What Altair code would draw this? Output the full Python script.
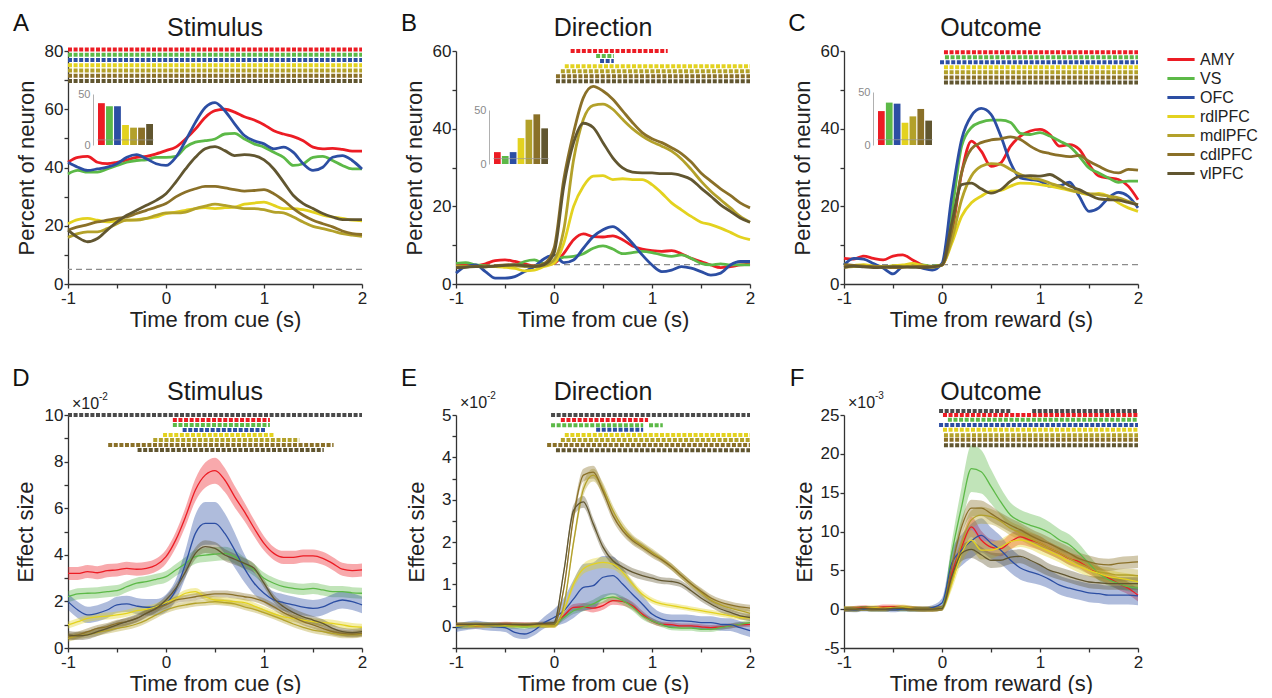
import altair as alt
import pandas as pd

REGIONS = ["AMY", "VS", "OFC", "rdlPFC", "mdlPFC", "cdlPFC", "vlPFC"]
COLORS = ["#ec1c24", "#5cb947", "#2c4ea3", "#e3d21f", "#b3a12a", "#8a7028", "#615630"]

T = [-1.0, -0.9, -0.8, -0.7, -0.6, -0.5, -0.4, -0.3, -0.2, -0.1, 0.0, 0.1, 0.2, 0.3, 0.4, 0.5,
     0.6, 0.7, 0.8, 0.9, 1.0, 1.1, 1.2, 1.3, 1.4, 1.5, 1.6, 1.7, 1.8, 1.9, 2.0]

# ---------------- Panel A: Stimulus, percent of neurons ----------------
A_AMY = [41.8, 43.5, 43.8, 41.8, 41.3, 41.8, 42.6, 43.5, 43.8, 44.7, 45.8, 47.0, 49.8, 53.2, 57.2, 59.5,
         60.0, 59.0, 57.4, 56.3, 54.7, 52.6, 51.5, 50.6, 49.2, 47.0, 46.4, 46.6, 46.2, 45.6, 45.6]
A_VS = [37.8, 39.0, 38.4, 38.4, 39.5, 40.7, 41.8, 42.4, 42.6, 43.5, 43.5, 43.8, 47.0, 48.7, 49.2, 49.8,
        51.5, 51.7, 49.8, 48.1, 47.0, 45.2, 43.5, 40.7, 41.3, 43.5, 43.8, 42.4, 40.7, 39.5, 39.5]
A_OFC = [41.8, 40.1, 39.0, 39.5, 40.1, 41.3, 43.5, 44.4, 43.0, 41.3, 40.7, 43.5, 49.2, 55.5, 60.6, 62.3,
         59.5, 55.0, 51.0, 49.2, 48.1, 46.4, 47.0, 45.2, 41.3, 39.0, 40.1, 43.5, 44.1, 42.4, 39.5]
A_RDL = [20.7, 22.1, 22.5, 21.9, 21.3, 21.7, 21.9, 22.1, 22.5, 23.0, 24.2, 24.7, 25.3, 25.9, 26.2, 25.9,
         26.2, 26.4, 27.4, 27.8, 28.1, 27.0, 25.9, 25.9, 25.5, 24.7, 23.6, 23.0, 22.5, 21.9, 21.7]
A_MDL = [16.0, 17.3, 17.9, 17.9, 19.0, 20.7, 21.9, 21.9, 22.5, 23.6, 24.4, 24.4, 24.7, 25.9, 26.7, 27.4,
         27.0, 26.4, 25.9, 25.9, 25.5, 24.7, 24.4, 23.0, 21.3, 19.8, 19.0, 18.2, 17.3, 16.8, 16.4]
A_CDL = [18.5, 19.6, 20.4, 21.3, 21.9, 22.5, 23.0, 24.2, 25.3, 26.4, 27.6, 29.9, 31.6, 32.7, 33.5, 33.5,
         33.0, 32.4, 31.9, 32.1, 32.4, 31.0, 28.7, 25.9, 23.6, 21.9, 20.7, 19.6, 18.2, 17.3, 17.0]
A_VL = [18.5, 16.0, 14.5, 15.6, 18.5, 21.3, 23.6, 25.3, 27.0, 28.7, 31.0, 35.0, 39.5, 43.5, 46.4, 47.2,
        45.8, 44.1, 44.4, 44.1, 42.6, 39.5, 35.0, 30.4, 27.6, 25.9, 24.2, 23.0, 22.1, 22.1, 22.1]
A_BARS = [41, 38, 38, 19.6, 17, 17, 20.6]
A_SIG = [("AMY", -1, 2, 80.5), ("VS", -1, 2, 78.7), ("OFC", -1, 2, 76.9), ("rdlPFC", -1, 2, 75.1),
         ("mdlPFC", -1, 2, 73.3), ("cdlPFC", -1, 2, 71.5), ("vlPFC", -1, 2, 69.7)]

# ---------------- Panel B: Direction, percent of neurons ----------------
B_AMY = [4.9, 5.2, 4.7, 5.2, 6.0, 6.2, 5.8, 5.2, 4.7, 4.9, 5.3, 7.9, 11.4, 12.9, 12.2, 12.1,
         12.4, 11.4, 9.8, 9.0, 8.6, 8.4, 8.6, 7.8, 6.6, 5.8, 4.9, 4.2, 4.5, 4.9, 5.2]
B_VS = [5.3, 5.5, 4.9, 4.7, 4.5, 4.5, 4.7, 5.8, 6.2, 5.3, 5.8, 6.9, 7.1, 7.8, 9.2, 9.8,
        9.0, 7.8, 8.1, 8.4, 8.1, 7.5, 7.1, 7.5, 6.6, 5.3, 4.9, 5.2, 4.9, 4.9, 4.9]
B_OFC = [2.8, 4.5, 4.9, 3.2, 1.5, 1.5, 1.9, 3.2, 4.5, 6.5, 7.5, 5.5, 6.2, 9.2, 12.2, 14.0,
         14.8, 13.1, 10.5, 7.5, 4.9, 3.2, 3.6, 4.5, 4.1, 3.2, 2.3, 2.8, 4.9, 5.8, 5.8]
B_RDL = [4.5, 4.5, 4.5, 4.5, 4.5, 4.3, 4.0, 3.4, 3.6, 4.5, 5.3, 10.5, 20.0, 25.2, 27.8, 27.9,
         26.9, 27.1, 26.9, 26.9, 25.6, 23.4, 20.9, 19.1, 17.4, 15.9, 15.3, 14.4, 13.3, 12.1, 11.4]
B_MDL = [4.5, 4.6, 4.5, 4.4, 4.6, 4.8, 4.7, 4.5, 4.6, 4.8, 6.2, 14.0, 32.0, 42.4, 46.0, 46.3,
         45.0, 42.4, 40.0, 38.1, 36.6, 35.5, 34.2, 32.2, 29.5, 26.5, 23.9, 21.7, 19.6, 17.4, 15.9]
B_CDL = [4.3, 4.4, 4.6, 4.5, 4.7, 4.9, 5.0, 4.8, 4.6, 5.3, 9.2, 27.0, 39.0, 48.0, 50.9, 49.7,
         47.6, 44.6, 41.6, 39.0, 37.4, 36.4, 35.1, 33.6, 31.4, 28.6, 26.5, 24.5, 22.8, 20.9, 19.6]
B_VL = [4.2, 4.3, 4.5, 4.4, 4.6, 4.8, 4.9, 4.7, 4.5, 5.0, 7.9, 25.2, 36.4, 41.4, 40.3, 36.4,
        32.5, 29.9, 28.8, 28.6, 28.6, 28.4, 28.4, 27.9, 26.9, 24.7, 22.6, 20.4, 18.7, 17.0, 15.9]
B_BARS = [11, 7.4, 11, 24, 41, 46, 33]
B_SIG = [("AMY", 0.17, 1.16, 60.0), ("VS", 0.43, 0.61, 58.7), ("OFC", 0.47, 0.61, 57.4),
         ("rdlPFC", 0.11, 2.0, 56.1), ("mdlPFC", 0.07, 2.0, 54.8), ("cdlPFC", 0.02, 2.0, 53.5),
         ("vlPFC", 0.02, 2.0, 52.2)]

# ---------------- Panel C: Outcome, percent of neurons ----------------
C_AMY = [6.6, 6.4, 7.2, 6.6, 6.2, 7.2, 7.5, 6.2, 4.9, 4.5, 4.9, 13.1, 28.6, 36.8, 34.2, 30.3,
         31.2, 35.5, 38.1, 39.4, 39.8, 38.5, 35.5, 35.9, 34.7, 30.8, 27.8, 27.3, 26.9, 25.2, 21.7]
C_VS = [5.3, 4.5, 4.5, 4.7, 4.5, 4.6, 4.8, 4.7, 4.9, 4.6, 4.9, 18.3, 35.5, 40.3, 41.7, 42.2,
        42.2, 41.6, 38.8, 38.5, 39.0, 38.1, 36.8, 35.5, 32.9, 29.9, 28.6, 27.3, 26.2, 26.5, 26.5]
C_OFC = [4.9, 6.6, 6.4, 5.3, 4.1, 2.6, 4.5, 4.9, 4.1, 3.6, 5.3, 22.6, 37.2, 43.3, 45.2, 43.7,
         38.1, 31.2, 27.3, 26.9, 26.5, 25.2, 25.3, 26.2, 22.6, 18.7, 19.6, 22.2, 23.6, 22.6, 19.6]
C_RDL = [4.5, 4.8, 5.0, 4.6, 4.4, 4.7, 4.9, 5.3, 4.8, 4.5, 4.9, 10.5, 17.4, 20.9, 22.6, 23.9,
         24.1, 25.2, 26.0, 25.9, 25.6, 25.2, 24.7, 24.1, 23.6, 23.0, 23.3, 22.6, 20.9, 19.6, 18.7]
C_MDL = [4.3, 4.5, 4.6, 4.4, 4.5, 4.3, 4.4, 4.6, 4.5, 4.3, 4.9, 11.4, 21.7, 27.8, 30.3, 31.0,
         30.8, 29.5, 28.2, 27.3, 26.9, 26.0, 25.2, 24.3, 23.6, 23.3, 23.0, 22.6, 22.2, 21.3, 20.4]
C_CDL = [5.0, 4.8, 4.6, 4.5, 4.4, 4.2, 4.3, 4.5, 4.6, 4.5, 4.9, 14.0, 28.6, 34.8, 36.4, 37.1,
         37.4, 37.9, 37.2, 35.5, 34.2, 33.6, 33.1, 32.8, 33.1, 31.6, 30.3, 29.1, 28.6, 29.5, 29.3]
C_VL = [4.3, 4.6, 4.4, 4.2, 4.3, 4.5, 4.4, 4.3, 4.2, 4.4, 4.9, 15.7, 25.6, 26.0, 24.5, 23.4,
        24.3, 26.5, 27.8, 27.9, 27.8, 28.2, 26.9, 25.3, 24.3, 23.0, 21.9, 21.7, 21.6, 21.0, 20.4]
C_BARS = [32, 40, 39, 21, 27, 34, 23]
C_SIG = [("AMY", 0.02, 2.0, 59.7), ("VS", 0.03, 2.0, 58.4), ("OFC", -0.02, 2.0, 57.1),
         ("rdlPFC", 0.02, 2.0, 55.8), ("mdlPFC", 0.02, 2.0, 54.5), ("cdlPFC", 0.02, 2.0, 53.2),
         ("vlPFC", 0.02, 2.0, 51.9)]

# ---------------- Panel D: Stimulus, effect size (x1e-2) ----------------
D_AMY = [3.20, 3.20, 3.28, 3.23, 3.32, 3.35, 3.42, 3.38, 3.42, 3.56, 3.92, 4.64, 5.64, 6.78, 7.42, 7.61,
         7.21, 6.50, 5.85, 5.14, 4.49, 4.06, 3.89, 3.89, 3.95, 3.95, 3.85, 3.63, 3.38, 3.32, 3.35]
D_VS = [2.20, 2.32, 2.35, 2.37, 2.42, 2.46, 2.63, 2.78, 2.85, 2.95, 3.06, 3.35, 3.63, 3.92, 3.99, 4.03,
        4.06, 3.92, 3.63, 3.35, 2.99, 2.78, 2.63, 2.56, 2.52, 2.56, 2.49, 2.42, 2.42, 2.37, 2.35]
D_OFC = [1.99, 1.63, 1.42, 1.49, 1.63, 1.85, 1.89, 1.80, 1.75, 1.75, 1.92, 2.49, 3.63, 4.92, 5.35, 5.35,
         4.92, 4.21, 3.42, 2.78, 2.35, 2.06, 1.95, 1.85, 1.75, 1.70, 1.77, 1.95, 2.06, 1.99, 1.85]
D_RDL = [0.99, 1.13, 1.27, 1.34, 1.37, 1.42, 1.49, 1.60, 1.66, 1.77, 1.95, 2.13, 2.35, 2.42, 2.20, 2.06,
         2.03, 1.99, 1.95, 1.80, 1.63, 1.46, 1.34, 1.27, 1.20, 1.13, 1.09, 1.06, 0.99, 0.92, 0.89]
D_MDL = [0.41, 0.52, 0.58, 0.66, 0.75, 0.84, 0.92, 1.03, 1.20, 1.42, 1.63, 1.77, 1.85, 1.92, 1.95, 1.99,
         1.95, 1.89, 1.77, 1.66, 1.52, 1.37, 1.20, 1.03, 0.89, 0.77, 0.70, 0.63, 0.56, 0.56, 0.60]
D_CDL = [0.49, 0.56, 0.70, 0.84, 0.92, 1.06, 1.13, 1.27, 1.49, 1.70, 1.85, 2.06, 2.13, 2.20, 2.27, 2.32,
         2.32, 2.27, 2.20, 2.13, 1.99, 1.77, 1.52, 1.32, 1.13, 0.99, 0.84, 0.70, 0.63, 0.60, 0.63]
D_VL = [0.56, 0.52, 0.56, 0.70, 0.84, 0.99, 1.13, 1.27, 1.49, 1.70, 2.06, 2.56, 3.28, 4.06, 4.35, 4.28,
        3.99, 3.81, 3.63, 3.42, 2.78, 2.13, 1.77, 1.52, 1.34, 1.20, 1.06, 0.84, 0.70, 0.66, 0.70]
D_AMY_W = [0.28] * 10 + [0.30, 0.34, 0.40, 0.48, 0.54, 0.56, 0.52, 0.46, 0.40, 0.35, 0.31] + [0.28] * 10
D_VS_W = [0.24] * 10 + [0.25, 0.26, 0.28, 0.30, 0.30, 0.30, 0.29, 0.28, 0.27, 0.26, 0.25] + [0.24] * 10
D_OFC_W = [0.35] * 10 + [0.38, 0.45, 0.60, 0.80, 0.92, 0.92, 0.86, 0.75, 0.60, 0.48, 0.40] + [0.36] * 10
D_RDL_W = [0.15] * 31
D_MDL_W = [0.14] * 31
D_CDL_W = [0.15] * 31
D_VL_W = [0.18] * 10 + [0.18, 0.20, 0.22, 0.25, 0.27, 0.27, 0.26, 0.24, 0.22, 0.20, 0.18] + [0.17] * 10
D_SIG_ALL = [(-1.0, 2.0, 10.0)]
D_SIG = [("AMY", 0.07, 1.06, 9.79), ("VS", 0.07, 1.06, 9.57), ("OFC", 0.17, 1.01, 9.36),
         ("rdlPFC", -0.03, 1.10, 9.14), ("mdlPFC", -0.13, 1.36, 8.93), ("cdlPFC", -0.59, 1.71, 8.71),
         ("vlPFC", -0.29, 1.61, 8.50)]

# ---------------- Panel E: Direction, effect size (x1e-2) ----------------
E_AMY = [0.03, 0.02, 0.02, 0.03, 0.04, 0.06, 0.05, 0.05, 0.04, 0.04, 0.05, 0.26, 0.46, 0.47, 0.44, 0.50,
         0.62, 0.60, 0.50, 0.30, 0.14, 0.06, 0.05, 0.02, 0.02, 0.00, -0.02, 0.00, 0.02, 0.05, 0.06]
E_VS = [0.00, 0.01, 0.03, 0.04, 0.03, 0.02, 0.01, 0.00, 0.02, 0.04, 0.06, 0.22, 0.38, 0.46, 0.54, 0.66,
        0.70, 0.62, 0.47, 0.26, 0.14, 0.05, -0.02, -0.03, -0.03, -0.06, -0.06, -0.02, 0.02, 0.06, 0.10]
E_OFC = [-0.02, 0.02, 0.05, 0.02, 0.00, -0.02, -0.13, -0.17, -0.08, 0.10, 0.22, 0.38, 0.66, 0.93, 0.97, 1.17,
         1.21, 1.01, 0.77, 0.54, 0.30, 0.18, 0.14, 0.14, 0.13, 0.10, 0.10, 0.06, 0.05, -0.02, -0.09]
E_RDL = [0.02, 0.02, 0.03, 0.02, 0.02, 0.03, 0.02, 0.02, 0.02, 0.02, 0.02, 0.38, 1.01, 1.37, 1.48, 1.52,
         1.48, 1.29, 1.01, 0.77, 0.62, 0.54, 0.50, 0.46, 0.42, 0.38, 0.34, 0.30, 0.26, 0.22, 0.21]
E_MDL = [0.05, 0.05, 0.06, 0.05, 0.04, 0.05, 0.05, 0.04, 0.05, 0.04, 0.02, 0.50, 2.00, 3.25, 3.58, 3.26,
         2.75, 2.35, 2.08, 1.92, 1.76, 1.60, 1.42, 1.21, 1.01, 0.81, 0.63, 0.52, 0.44, 0.38, 0.32]
E_CDL = [0.06, 0.06, 0.05, 0.05, 0.06, 0.05, 0.05, 0.04, 0.05, 0.06, 0.06, 0.90, 2.60, 3.58, 3.65, 3.20,
         2.63, 2.27, 2.04, 1.88, 1.72, 1.58, 1.41, 1.21, 1.01, 0.84, 0.68, 0.58, 0.52, 0.47, 0.44]
E_VL = [0.05, 0.05, 0.06, 0.05, 0.05, 0.06, 0.05, 0.05, 0.06, 0.08, 0.10, 1.30, 2.75, 2.95, 2.43, 1.88,
        1.56, 1.41, 1.29, 1.21, 1.15, 1.09, 1.07, 1.01, 0.85, 0.68, 0.54, 0.42, 0.34, 0.26, 0.22]
E_AMY_W = [0.06] * 10 + [0.06, 0.07, 0.08, 0.09, 0.10, 0.10, 0.10, 0.10, 0.09, 0.08, 0.07] + [0.06] * 10
E_VS_W = [0.06] * 10 + [0.06, 0.07, 0.08, 0.09, 0.10, 0.10, 0.10, 0.10, 0.09, 0.08, 0.07] + [0.06] * 10
E_OFC_W = [0.10, 0.10, 0.10, 0.10, 0.10, 0.10, 0.12, 0.12, 0.12, 0.14, 0.20] + \
          [0.30, 0.45, 0.55, 0.55, 0.50, 0.45, 0.38, 0.30, 0.22, 0.18] + [0.15] * 10
E_RDL_W = [0.05] * 11 + [0.08, 0.10, 0.12, 0.13, 0.13, 0.12, 0.10, 0.09, 0.08, 0.07] + [0.06] * 10
E_MDL_W = [0.05] * 11 + [0.08, 0.12, 0.15, 0.15, 0.14, 0.12, 0.11, 0.10, 0.09, 0.09] + [0.08] * 10
E_CDL_W = [0.05] * 11 + [0.08, 0.12, 0.15, 0.15, 0.14, 0.12, 0.11, 0.10, 0.09, 0.09] + [0.08] * 10
E_VL_W = [0.05] * 11 + [0.10, 0.13, 0.14, 0.13, 0.12, 0.11, 0.10, 0.10, 0.10, 0.09] + [0.08] * 10
E_SIG_ALL = [(-0.03, 2.0, 5.0)]
E_SIG = [("AMY", 0.07, 0.96, 4.88), ("VS", -0.03, 0.91, 4.76), ("VS", 0.97, 1.11, 4.76),
         ("OFC", 0.43, 0.91, 4.65), ("rdlPFC", 0.11, 2.0, 4.53), ("mdlPFC", 0.07, 2.0, 4.41),
         ("cdlPFC", -0.07, 2.0, 4.29), ("vlPFC", 0.02, 2.0, 4.17)]

# ---------------- Panel F: Outcome, effect size (x1e-3) ----------------
F_AMY = [0.0, 0.1, 0.2, 0.1, 0.3, 0.3, 0.2, 0.1, 0.0, 0.0, 0.2, 4.6, 8.0, 10.6, 8.9, 8.0,
         7.8, 8.7, 9.3, 8.9, 8.5, 7.8, 7.2, 6.5, 6.1, 5.3, 4.6, 4.0, 3.3, 2.7, 1.8]
F_VS = [0.0, 0.0, 0.1, 0.0, 0.0, 0.1, 0.0, 0.0, 0.0, 0.0, 0.2, 7.2, 13.2, 18.1, 17.7, 15.8,
        13.8, 12.1, 11.3, 10.8, 10.4, 9.8, 8.9, 8.3, 7.2, 5.9, 4.6, 3.8, 3.3, 2.9, 2.7]
F_OFC = [0.0, -0.1, 0.0, 0.0, 0.0, -0.1, 0.0, 0.0, 0.0, 0.2, 0.8, 5.9, 7.6, 8.8, 9.5, 8.5,
         7.6, 6.3, 5.3, 4.8, 4.4, 3.8, 3.1, 2.7, 2.4, 2.1, 2.0, 1.8, 1.8, 1.8, 1.7]
F_RDL = [0.1, 0.0, 0.1, 0.2, 0.1, 0.2, 0.3, 0.1, 0.0, 0.0, 0.1, 3.3, 7.2, 8.9, 7.6, 7.6,
         8.0, 8.7, 8.9, 8.6, 8.0, 7.4, 6.8, 6.1, 5.5, 5.0, 4.6, 4.2, 4.0, 3.8, 3.5]
F_MDL = [0.0, 0.1, 0.1, 0.0, 0.1, 0.1, 0.2, 0.1, 0.0, 0.0, 0.1, 3.7, 8.5, 11.5, 12.1, 11.9,
         11.3, 10.4, 9.8, 9.1, 8.5, 7.8, 7.2, 6.5, 5.9, 5.3, 4.8, 4.6, 4.4, 4.4, 4.3]
F_CDL = [0.0, 0.0, 0.1, 0.1, 0.0, 0.1, 0.1, 0.0, 0.0, 0.0, 0.1, 5.5, 10.6, 13.0, 13.0, 12.3,
         11.5, 10.8, 10.2, 9.5, 8.9, 8.4, 7.8, 7.2, 6.5, 6.1, 5.8, 5.7, 5.9, 6.0, 6.1]
F_VL = [0.0, 0.0, 0.1, 0.0, 0.0, 0.1, 0.1, 0.0, 0.0, 0.0, 0.1, 4.2, 7.2, 7.7, 7.0, 6.3,
        6.3, 6.7, 6.8, 6.3, 5.7, 5.0, 4.6, 4.2, 3.8, 3.5, 3.4, 3.3, 3.3, 3.3, 3.3]
F_AMY_W = [0.3] * 11 + [0.8, 1.1, 1.3, 1.2, 1.0, 1.0, 1.0, 1.0, 0.9, 0.9] + [0.8] * 10
F_VS_W = [0.3] * 11 + [1.5, 2.5, 3.0, 2.8, 2.2, 1.8, 1.6, 1.5, 1.5, 1.5] + \
         [1.4, 1.4, 1.3, 1.2, 1.0, 0.9, 0.8, 0.7, 0.6, 0.6]
F_OFC_W = [0.3] * 10 + [0.6] + [1.6, 2.0, 2.2, 2.2, 2.0, 1.8, 1.6, 1.5, 1.4, 1.3] + [1.2] * 10
F_RDL_W = [0.3] * 11 + [0.8, 1.2, 1.3, 1.2, 1.1, 1.0, 1.0, 0.9, 0.9, 0.9] + [0.8] * 10
F_MDL_W = [0.3] * 11 + [0.8, 1.1, 1.2, 1.1, 1.0, 1.0, 0.9, 0.9, 0.9, 0.9] + [0.8] * 10
F_CDL_W = [0.3] * 11 + [0.8, 1.0, 1.1, 1.0, 1.0, 0.9, 0.9, 0.9, 0.9, 0.9] + [0.8] * 10
F_VL_W = [0.3] * 11 + [0.8, 1.0, 1.1, 1.0, 1.0, 0.9, 0.9, 0.9, 0.9, 0.9] + [0.8] * 10
F_SIG_ALL = [(-0.03, 0.71, 25.5), (0.92, 2.0, 25.5)]
F_SIG = [("AMY", 0.01, 2.0, 25.0), ("VS", 0.06, 2.0, 24.4), ("OFC", -0.03, 2.0, 23.7),
         ("rdlPFC", 0.01, 2.0, 23.1), ("mdlPFC", 0.02, 2.0, 22.4), ("cdlPFC", 0.02, 2.0, 21.8),
         ("vlPFC", 0.02, 2.0, 21.1)]

FONT = "Liberation Sans"
W, H = 294, 233
CSCALE = alt.Scale(domain=REGIONS, range=COLORS)
LEGEND = alt.Legend(orient="none", legendX=1103, legendY=-1.5, title=None, labelFontSize=16,
                    labelColor="#222222", symbolType="M-1.6,0H1.6", symbolSize=289,
                    symbolStrokeWidth=3, rowPadding=1, labelOffset=9, padding=0)


def long_df(series, widths=None):
    rows = []
    for r in REGIONS:
        vals = series[r]
        for i, (t, v) in enumerate(zip(T, vals)):
            row = {"t": t, "v": v, "region": r}
            if widths is not None:
                row["lo"] = v - widths[r][i]
                row["hi"] = v + widths[r][i]
            rows.append(row)
    return pd.DataFrame(rows)


def axes(xtitle, ytitle, yvals, ylabel_expr, ytitle_x):
    xa = alt.Axis(values=[-1, -0.5, 0, 0.5, 1, 1.5, 2],
                  labelExpr="datum.value % 1 == 0 ? toString(datum.value) : ''",
                  title=xtitle, titleY=35, titleBaseline="middle", labelPadding=2,
                  labelFlush=False, labelOverlap=False)
    ya = alt.Axis(values=yvals, labelExpr=ylabel_expr, title=ytitle, titleX=ytitle_x,
                  titleY=H / 2, titleAngle=270, titleBaseline="middle", titleAlign="center",
                  labelPadding=1, labelFlush=False, labelOverlap=False)
    return xa, ya


def label_layers(letter, title, exp_base=None, exp_pow=None, exp_y=-11):
    one = pd.DataFrame({"s": [letter], "ttl": [title]})
    layers = [
        alt.Chart(one).mark_text(fontSize=24, font=FONT, color="#111111", align="center",
                                 baseline="middle").encode(
            text="s:N", x=alt.value(-47), y=alt.value(-27 if exp_base is None else -36)),
        alt.Chart(one).mark_text(fontSize=25, font=FONT, color="#1a1a1a", align="center",
                                 baseline="middle").encode(
            text="ttl:N", x=alt.value(W / 2), y=alt.value(-23)),
    ]
    if exp_base is not None:
        ex = pd.DataFrame({"b": [exp_base], "p": [exp_pow]})
        layers.append(alt.Chart(ex).mark_text(fontSize=16, font=FONT, color="#222222", align="left",
                                              baseline="middle").encode(
            text="b:N", x=alt.value(4), y=alt.value(exp_y)))
        layers.append(alt.Chart(ex).mark_text(fontSize=10, font=FONT, color="#222222", align="left",
                                              baseline="middle").encode(
            text="p:N", x=alt.value(31), y=alt.value(exp_y - 7)))
    return layers


def sig_df(sig):
    return pd.DataFrame({"region": [s[0] for s in sig], "s": [s[1] for s in sig],
                         "e": [s[2] for s in sig], "y": [s[3] for s in sig]})


def top_panel(series, ymax, yvals, bars, inset, sig, xtitle, letter, title):
    xs = alt.Scale(domain=[-1, 2], nice=False, zero=False)
    ys = alt.Scale(domain=[0, ymax], nice=False, zero=False)
    xa, ya = axes(xtitle, "Percent of neuron", yvals,
                  "datum.value % 20 == 0 ? toString(datum.value) : ''", -42)
    df = long_df(series)
    dash = alt.Chart(pd.DataFrame({"y": [5]})).mark_rule(
        color="#8c8c8c", strokeDash=[6, 4], strokeWidth=1.2).encode(
        y=alt.Y("y:Q", scale=ys, axis=ya))
    lines = alt.Chart(df).mark_line(strokeWidth=2.8, interpolate="monotone").encode(
        x=alt.X("t:Q", scale=xs, axis=xa),
        y=alt.Y("v:Q", scale=ys, axis=ya),
        color=alt.Color("region:N", scale=CSCALE, legend=LEGEND, sort=REGIONS))
    sigc = alt.Chart(sig_df(sig)).mark_rule(strokeWidth=4, strokeDash=[4, 1.6]).encode(
        x=alt.X("s:Q", scale=xs, axis=xa), x2="e:Q",
        y=alt.Y("y:Q", scale=ys, axis=ya),
        color=alt.Color("region:N", scale=CSCALE, legend=None))
    main = alt.layer(dash, lines, sigc, *label_layers(letter, title))

    ax0, bx0, bx1, y0px, y50px = inset
    bdf = pd.DataFrame({"region": REGIONS, "pct": bars})
    bxs = alt.Scale(domain=REGIONS, range=[bx0, bx1], paddingInner=0.15, paddingOuter=0)
    bys = alt.Scale(domain=[0, 50], range=[y0px, y50px], nice=False, zero=True)
    bya = alt.Axis(orient="left", offset=-ax0, values=[0, 50], ticks=False, grid=False, title=None,
                   labelFontSize=11, labelColor="#8a8a8a", domainColor="#b0b0b0", domainWidth=1,
                   labelPadding=3)
    ibars = alt.Chart(bdf).mark_bar().encode(
        x=alt.X("region:N", scale=bxs, axis=None, sort=REGIONS),
        y=alt.Y("pct:Q", scale=bys, axis=bya),
        color=alt.Color("region:N", scale=CSCALE, legend=None))
    ibase = alt.Chart(pd.DataFrame({"region": REGIONS, "pct": [5] * 7})).mark_tick(
        color="#9a9a9a", thickness=1, opacity=0.7).encode(
        x=alt.X("region:N", scale=bxs, axis=None, sort=REGIONS),
        y=alt.Y("pct:Q", scale=bys, axis=bya),
        size=alt.value(8))
    ins = alt.layer(ibars, ibase)
    return alt.layer(main, ins).resolve_scale(x="independent", y="independent").properties(
        width=W, height=H)


def bottom_panel(series, widths, ydom, yvals, ylabel_expr, ytitle_x, sig_all, sig, xtitle,
                 letter, title, exp_base, exp_pow, exp_y):
    xs = alt.Scale(domain=[-1, 2], nice=False, zero=False)
    ys = alt.Scale(domain=ydom, nice=False, zero=False)
    xa, ya = axes(xtitle, "Effect size", yvals, ylabel_expr, ytitle_x)
    df = long_df(series, widths)
    bands = alt.Chart(df).mark_area(opacity=0.38, interpolate="monotone").encode(
        x=alt.X("t:Q", scale=xs, axis=xa),
        y=alt.Y("lo:Q", scale=ys, axis=ya), y2="hi:Q",
        color=alt.Color("region:N", scale=CSCALE, legend=None))
    lines = alt.Chart(df).mark_line(strokeWidth=1.3, interpolate="monotone").encode(
        x=alt.X("t:Q", scale=xs, axis=xa),
        y=alt.Y("v:Q", scale=ys, axis=ya),
        color=alt.Color("region:N", scale=CSCALE, legend=LEGEND, sort=REGIONS))
    adf = pd.DataFrame({"s": [a[0] for a in sig_all], "e": [a[1] for a in sig_all],
                        "y": [a[2] for a in sig_all]})
    sig0 = alt.Chart(adf).mark_rule(strokeWidth=4, strokeDash=[4, 1.6], color="#4a4a4a").encode(
        x=alt.X("s:Q", scale=xs, axis=xa), x2="e:Q",
        y=alt.Y("y:Q", scale=ys, axis=ya))
    sigc = alt.Chart(sig_df(sig)).mark_rule(strokeWidth=4, strokeDash=[4, 1.6]).encode(
        x=alt.X("s:Q", scale=xs, axis=xa), x2="e:Q",
        y=alt.Y("y:Q", scale=ys, axis=ya),
        color=alt.Color("region:N", scale=CSCALE, legend=None))
    return alt.layer(bands, lines, sig0, sigc,
                     *label_layers(letter, title, exp_base, exp_pow, exp_y)).properties(
        width=W, height=H)


def ser(a, b, c, d, e, f, g):
    return dict(zip(REGIONS, [a, b, c, d, e, f, g]))


pA = top_panel(ser(A_AMY, A_VS, A_OFC, A_RDL, A_MDL, A_CDL, A_VL), 80, list(range(0, 81, 10)),
               A_BARS, (25, 30, 85, 94, 43), A_SIG, "Time from cue (s)", "A", "Stimulus")
pB = top_panel(ser(B_AMY, B_VS, B_OFC, B_RDL, B_MDL, B_CDL, B_VL), 60, list(range(0, 61, 10)),
               B_BARS, (33, 38, 92, 113, 59), B_SIG, "Time from cue (s)", "B", "Direction")
pC = top_panel(ser(C_AMY, C_VS, C_OFC, C_RDL, C_MDL, C_CDL, C_VL), 60, list(range(0, 61, 10)),
               C_BARS, (29, 34, 88, 94, 41), C_SIG, "Time from reward (s)", "C", "Outcome")

pD = bottom_panel(ser(D_AMY, D_VS, D_OFC, D_RDL, D_MDL, D_CDL, D_VL),
                  ser(D_AMY_W, D_VS_W, D_OFC_W, D_RDL_W, D_MDL_W, D_CDL_W, D_VL_W),
                  [0, 10], list(range(0, 11)),
                  "datum.value % 2 == 0 ? toString(datum.value) : ''", -43,
                  D_SIG_ALL, D_SIG, "Time from cue (s)", "D", "Stimulus", "×10", "-2", -11)
pE = bottom_panel(ser(E_AMY, E_VS, E_OFC, E_RDL, E_MDL, E_CDL, E_VL),
                  ser(E_AMY_W, E_VS_W, E_OFC_W, E_RDL_W, E_MDL_W, E_CDL_W, E_VL_W),
                  [-0.5, 5], [-0.5, 0, 0.5, 1, 1.5, 2, 2.5, 3, 3.5, 4, 4.5, 5],
                  "datum.value % 1 == 0 ? toString(datum.value) : ''", -40,
                  E_SIG_ALL, E_SIG, "Time from cue (s)", "E", "Direction", "×10", "-2", -12)
pF = bottom_panel(ser(F_AMY, F_VS, F_OFC, F_RDL, F_MDL, F_CDL, F_VL),
                  ser(F_AMY_W, F_VS_W, F_OFC_W, F_RDL_W, F_MDL_W, F_CDL_W, F_VL_W),
                  [-5, 25], [-5, 0, 5, 10, 15, 20, 25],
                  "toString(datum.value)", -40,
                  F_SIG_ALL, F_SIG, "Time from reward (s)", "F", "Outcome", "×10", "-3", -12)

chart = alt.concat(pA, pB, pC, pD, pE, pF, columns=3,
                   spacing={"row": 131, "column": 94}, bounds="flush").properties(
    padding={"left": 4, "top": 4, "right": 4, "bottom": 0}
).configure(font=FONT, background="white").configure_view(stroke=None).configure_axis(
    grid=False, domainColor="#333333", tickColor="#333333", labelColor="#222222",
    titleColor="#222222", labelFontSize=17, titleFontSize=22, titleFontWeight="normal",
    domainWidth=1.3, tickWidth=1.3, tickSize=4, labelFont=FONT, titleFont=FONT)

chart.save("out.html", embed_options={"renderer": "svg", "actions": False})
